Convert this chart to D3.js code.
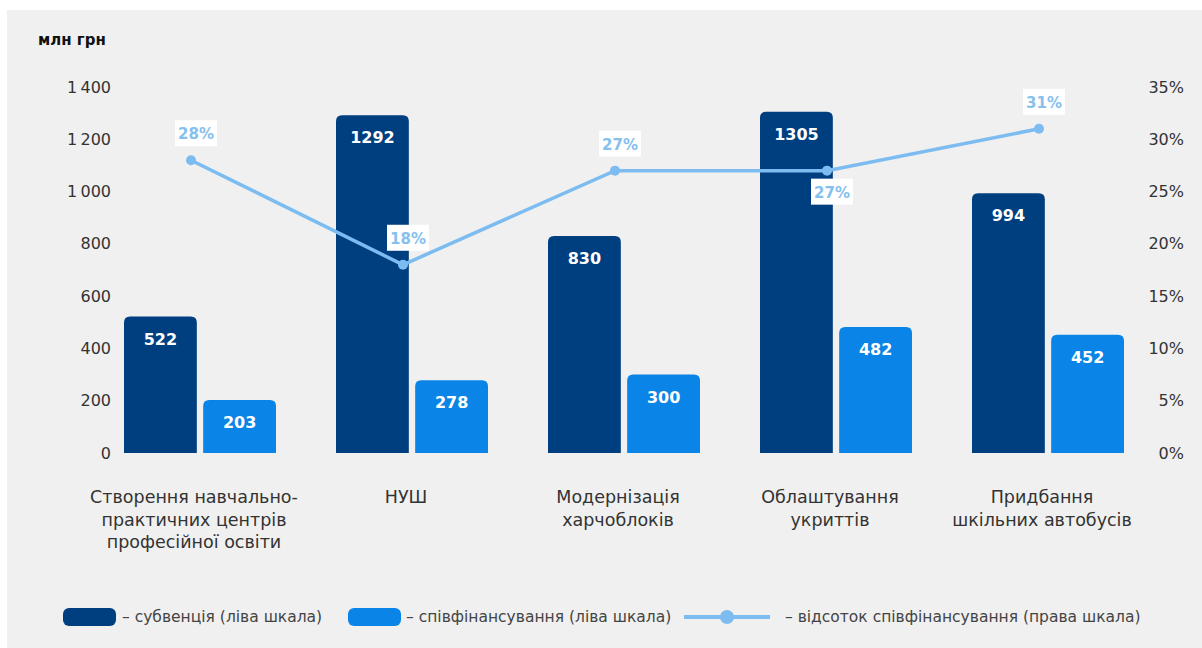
<!DOCTYPE html>
<html>
<head>
<meta charset="utf-8">
<script src="https://cdn.jsdelivr.net/npm/d3@7"></script>
<style>
  body { margin: 0; background: #fff; }
  text { font-family: "DejaVu Sans", sans-serif; }
</style>
</head>
<body>
<div id="chart"></div>
<script>
// data
const categories = [
  ["Створення навчально-", "практичних центрів", "професійної освіти"],
  ["НУШ"],
  ["Модернізація", "харчоблоків"],
  ["Облаштування", "укриттів"],
  ["Придбання", "шкільних автобусів"]
];
const subvention = [522, 1292, 830, 1305, 994];
const cofinancing = [203, 278, 300, 482, 452];
const cofinPercent = [28, 18, 27, 27, 31];
const leftTicks = [0, 200, 400, 600, 800, 1000, 1200, 1400];
const rightTicks = [0, 5, 10, 15, 20, 25, 30, 35];

const W = 1202, H = 648;
const dark = "#003f7f", light = "#0a84e6", lineCol = "#7dbcf0", pctText = "#86c0ee";

const svg = d3.select("#chart").append("svg")
    .attr("width", W)
    .attr("height", H);

// panel background
svg.append("rect")
    .attr("x", 7).attr("y", 10)
    .attr("width", W - 7).attr("height", H - 10)
    .attr("fill", "#f0f0f0");

const keys = categories.map((c, i) => "c" + i);

// scales
const x = d3.scaleBand().domain(keys).range([94, 1154]);
const xs = d3.scaleBand().domain(["sub", "co"]).range([-76, 76]).paddingInner(0.08);
const y = d3.scaleLinear().domain([0, 1400]).range([453, 87]);
const yr = d3.scaleLinear().domain([0, 35]).range([453, 87]);

// left axis
const fmtLeft = d => d3.format(",")(d).replace(",", "\u2009");
svg.append("g")
    .attr("transform", "translate(111,0)")
    .call(d3.axisLeft(y).tickValues(leftTicks).tickSize(0).tickPadding(0).tickFormat(fmtLeft))
    .call(g => g.select(".domain").remove())
    .selectAll("text")
    .attr("font-size", 16).attr("fill", "#333").attr("font-family", "DejaVu Sans");

// right axis
svg.append("g")
    .attr("transform", "translate(1184,0)")
    .call(d3.axisLeft(yr).tickValues(rightTicks).tickSize(0).tickPadding(0).tickFormat(d => d + "%"))
    .call(g => g.select(".domain").remove())
    .selectAll("text")
    .attr("font-size", 16).attr("fill", "#333").attr("font-family", "DejaVu Sans");

// unit label
svg.append("text")
    .attr("x", 38).attr("y", 45)
    .attr("font-size", 15).attr("font-weight", "bold").attr("fill", "#111")
    .text("млн грн");

// rounded-top bar path
function topRounded(x0, y0, w, h, r) {
  r = Math.min(r, h);
  return `M${x0},${y0 + h}V${y0 + r}Q${x0},${y0} ${x0 + r},${y0}H${x0 + w - r}Q${x0 + w},${y0} ${x0 + w},${y0 + r}V${y0 + h}Z`;
}

const groups = svg.selectAll("g.grp")
    .data(keys)
    .enter().append("g")
    .attr("class", "grp")
    .attr("transform", d => `translate(${x(d) + x.bandwidth() / 2},0)`);

const series = [
  {key: "sub", vals: subvention, color: dark},
  {key: "co", vals: cofinancing, color: light}
];

series.forEach(s => {
  groups.append("path")
      .attr("fill", s.color)
      .attr("d", (d, i) => topRounded(xs(s.key), y(s.vals[i]), xs.bandwidth(), y(0) - y(s.vals[i]), 6));
  groups.append("text")
      .attr("x", xs(s.key) + xs.bandwidth() / 2)
      .attr("y", (d, i) => y(s.vals[i]) + 28)
      .attr("text-anchor", "middle")
      .attr("font-size", 16).attr("font-weight", "bold").attr("fill", "#fff")
      .text((d, i) => s.vals[i]);
});

// category labels
groups.append("text")
    .attr("text-anchor", "middle")
    .attr("font-size", 17.5).attr("fill", "#333")
    .each(function(d, i) {
      d3.select(this).selectAll("tspan")
        .data(categories[i])
        .enter().append("tspan")
        .attr("x", -6)
        .attr("y", (t, j) => 503 + j * 22.5)
        .text(t => t);
    });

// percent line
const lx = i => x(keys[i]) + x.bandwidth() / 2 - 9;
const line = d3.line().x((d, i) => lx(i)).y(d => yr(d));
svg.append("path")
    .datum(cofinPercent)
    .attr("fill", "none")
    .attr("stroke", lineCol)
    .attr("stroke-width", 3.5)
    .attr("d", line);
svg.selectAll("circle.pt")
    .data(cofinPercent)
    .enter().append("circle")
    .attr("class", "pt")
    .attr("cx", (d, i) => lx(i))
    .attr("cy", d => yr(d))
    .attr("r", 5)
    .attr("fill", lineCol);

const pl = svg.selectAll("g.pl")
    .data(cofinPercent)
    .enter().append("g")
    .attr("class", "pl")
    .attr("transform", (d, i) => `translate(${lx(i) + 5},${yr(d) + (i === 3 ? 21 : -27)})`);
pl.append("rect")
    .attr("x", -21).attr("y", -13)
    .attr("width", 42).attr("height", 26)
    .attr("fill", "#fff");
pl.append("text")
    .attr("text-anchor", "middle")
    .attr("y", 6)
    .attr("font-size", 15).attr("font-weight", "bold").attr("fill", pctText)
    .text(d => d + "%");

// legend
const leg = svg.append("g").attr("transform", "translate(0,617)");
leg.append("rect").attr("x", 63).attr("y", -9).attr("width", 53).attr("height", 18).attr("rx", 6).attr("fill", dark);
leg.append("text").attr("x", 122).attr("y", 5).attr("font-size", 15.5).attr("fill", "#444")
    .text("– субвенція (ліва шкала)");
leg.append("rect").attr("x", 348).attr("y", -9).attr("width", 53).attr("height", 18).attr("rx", 6).attr("fill", light);
leg.append("text").attr("x", 406).attr("y", 5).attr("font-size", 15.5).attr("fill", "#444")
    .text("– співфінансування (ліва шкала)");
leg.append("line").attr("x1", 684).attr("x2", 770).attr("y1", 0).attr("y2", 0)
    .attr("stroke", lineCol).attr("stroke-width", 4);
leg.append("circle").attr("cx", 727).attr("cy", 0).attr("r", 7).attr("fill", lineCol);
leg.append("text").attr("x", 785).attr("y", 5).attr("font-size", 15.5).attr("fill", "#444")
    .text("– відсоток співфінансування (права шкала)");
</script>
</body>
</html>
